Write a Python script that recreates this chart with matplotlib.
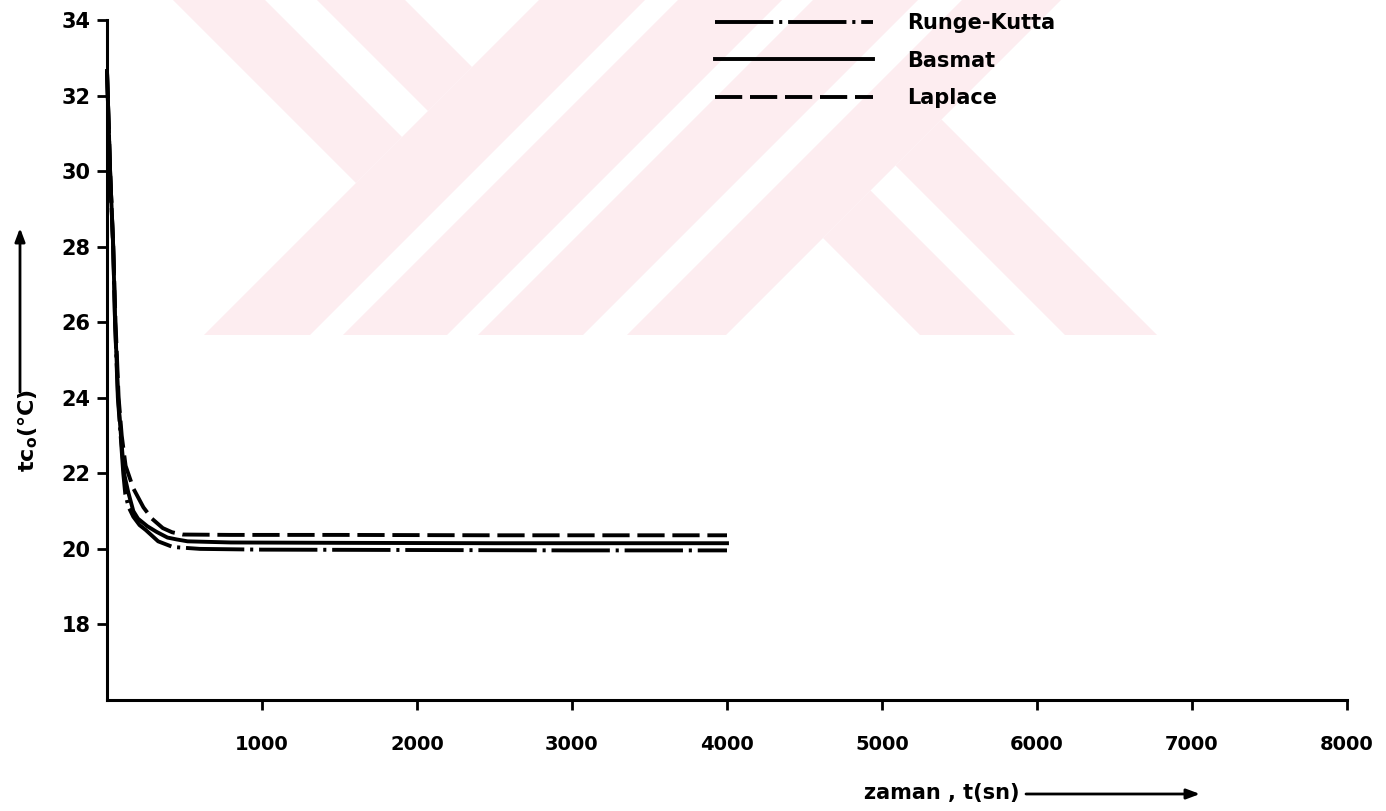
import matplotlib
matplotlib.use("Agg")
import matplotlib.pyplot as plt
from matplotlib.patches import Polygon, FancyArrowPatch

# time (s) and outlet temperature (°C)
t_runge = [0, 20, 40, 52, 70, 88, 105, 118, 140, 170, 210, 250, 330, 425, 600, 1000, 2000, 3000, 4000]
v_runge = [32.65, 30.0, 28.0, 26.0, 24.0, 23.0, 22.0, 21.45, 21.1, 20.85, 20.63, 20.5, 20.2, 20.05, 20.0,
           19.98, 19.97, 19.96, 19.96]

t_basmat = [0, 20, 40, 52, 72, 90, 110, 137, 170, 200, 260, 320, 390, 450, 520, 800, 1500, 2500, 4000]
v_basmat = [32.65, 30.0, 28.0, 26.0, 24.0, 23.0, 22.0, 21.5, 21.0, 20.8, 20.6, 20.45, 20.3, 20.25, 20.2,
            20.17, 20.16, 20.15, 20.15]

t_laplace = [0, 20, 40, 55, 75, 95, 120, 170, 235, 290, 360, 420, 490, 800, 1500, 2500, 4000]
v_laplace = [32.65, 30.0, 28.0, 26.0, 24.0, 23.0, 22.2, 21.6, 21.1, 20.8, 20.55, 20.44, 20.38, 20.37, 20.37,
             20.36, 20.36]

labels = ["Runge-Kutta", "Basmat", "Laplace"]
x_ticks = [1000, 2000, 3000, 4000, 5000, 6000, 7000, 8000]
y_ticks = [18, 20, 22, 24, 26, 28, 30, 32, 34]

W, H = 1386, 811
plt.rcParams["font.family"] = ["DejaVu Sans"]
plt.rcParams["font.weight"] = "bold"

fig = plt.figure(figsize=(W / 100, H / 100), dpi=100)

# faint watermark of the scanned page (pixel coordinates)
bg = fig.add_axes([0, 0, 1, 1], zorder=0)
bg.set_xlim(0, W)
bg.set_ylim(H, 0)
bg.axis("off")
wm_color = "#fdedf0"
wm_h = 335
for a, b in [(173, 265), (317, 405)]:
    s = 539
    bg.add_patch(Polygon([(a, 0), (b, 0), ((b + s) / 2, (s - b) / 2), ((a + s) / 2, (s - a) / 2)],
                         closed=True, color=wm_color, lw=0))
for p, q in [(539, 645), (678, 782), (813, 918), (962, 1061)]:
    bg.add_patch(Polygon([(p, 0), (q, 0), (q - wm_h, wm_h), (p - wm_h, wm_h)],
                         closed=True, color=wm_color, lw=0))
for a, b in [(585, 680), (730, 822)]:
    s = 1061
    bg.add_patch(Polygon([((a + s) / 2, (s - a) / 2), ((b + s) / 2, (s - b) / 2), (b + wm_h, wm_h), (a + wm_h, wm_h)],
                         closed=True, color=wm_color, lw=0))

ax = fig.add_axes([107 / W, 111 / H, 1240 / W, 680 / H], zorder=1)
ax.patch.set_alpha(0)

lw = 2.8
ax.plot(t_runge, v_runge, color="black", lw=lw, dashes=(15, 1.5, 0.8, 1.5), label=labels[0], clip_on=False)
ax.plot(t_basmat, v_basmat, color="black", lw=lw, label=labels[1], clip_on=False)
ax.plot(t_laplace, v_laplace, color="black", lw=lw, dashes=(7, 2), label=labels[2], clip_on=False)

ax.set_xlim(0, 8000)
ax.set_ylim(16, 34)
for side in ["top", "right"]:
    ax.spines[side].set_visible(False)
for side in ["left", "bottom"]:
    ax.spines[side].set_linewidth(2.2)

ax.set_xticks(x_ticks)
ax.set_yticks(y_ticks)
ax.tick_params(axis="x", direction="out", length=7, width=2, pad=18, labelsize=14)
ax.tick_params(axis="y", direction="out", length=7, width=2, pad=5, labelsize=15)
for lab in ax.get_xticklabels() + ax.get_yticklabels():
    lab.set_fontweight("bold")

fig.legend(loc="upper left", bbox_to_anchor=(715 / W, 1 - 13 / H), frameon=False,
           prop={"size": 15, "weight": "bold"},
           handlelength=7.6, handletextpad=1.6, labelspacing=0.85, borderpad=0, borderaxespad=0)

# axis labels with arrows, as drawn on the original
fig.text(28 / W, 1 - 430 / H, "tc$_\\mathbf{o}$(°C)", rotation=90, ha="center", va="center",
         fontsize=16, fontweight="bold")
fig.add_artist(FancyArrowPatch((20 / W, 1 - 392 / H), (20 / W, 1 - 228 / H),
                               transform=fig.transFigure, arrowstyle="-|>,head_length=8,head_width=3",
                               color="black", lw=2, shrinkA=0, shrinkB=0))
fig.text(942 / W, 1 - 793 / H, "zaman , t(sn)", ha="center", va="center", fontsize=15, fontweight="bold")
fig.add_artist(FancyArrowPatch((1026 / W, 1 - 794 / H), (1200 / W, 1 - 794 / H),
                               transform=fig.transFigure, arrowstyle="-|>,head_length=8,head_width=3",
                               color="black", lw=2, shrinkA=0, shrinkB=0))

fig.savefig("out.png", dpi=100)
